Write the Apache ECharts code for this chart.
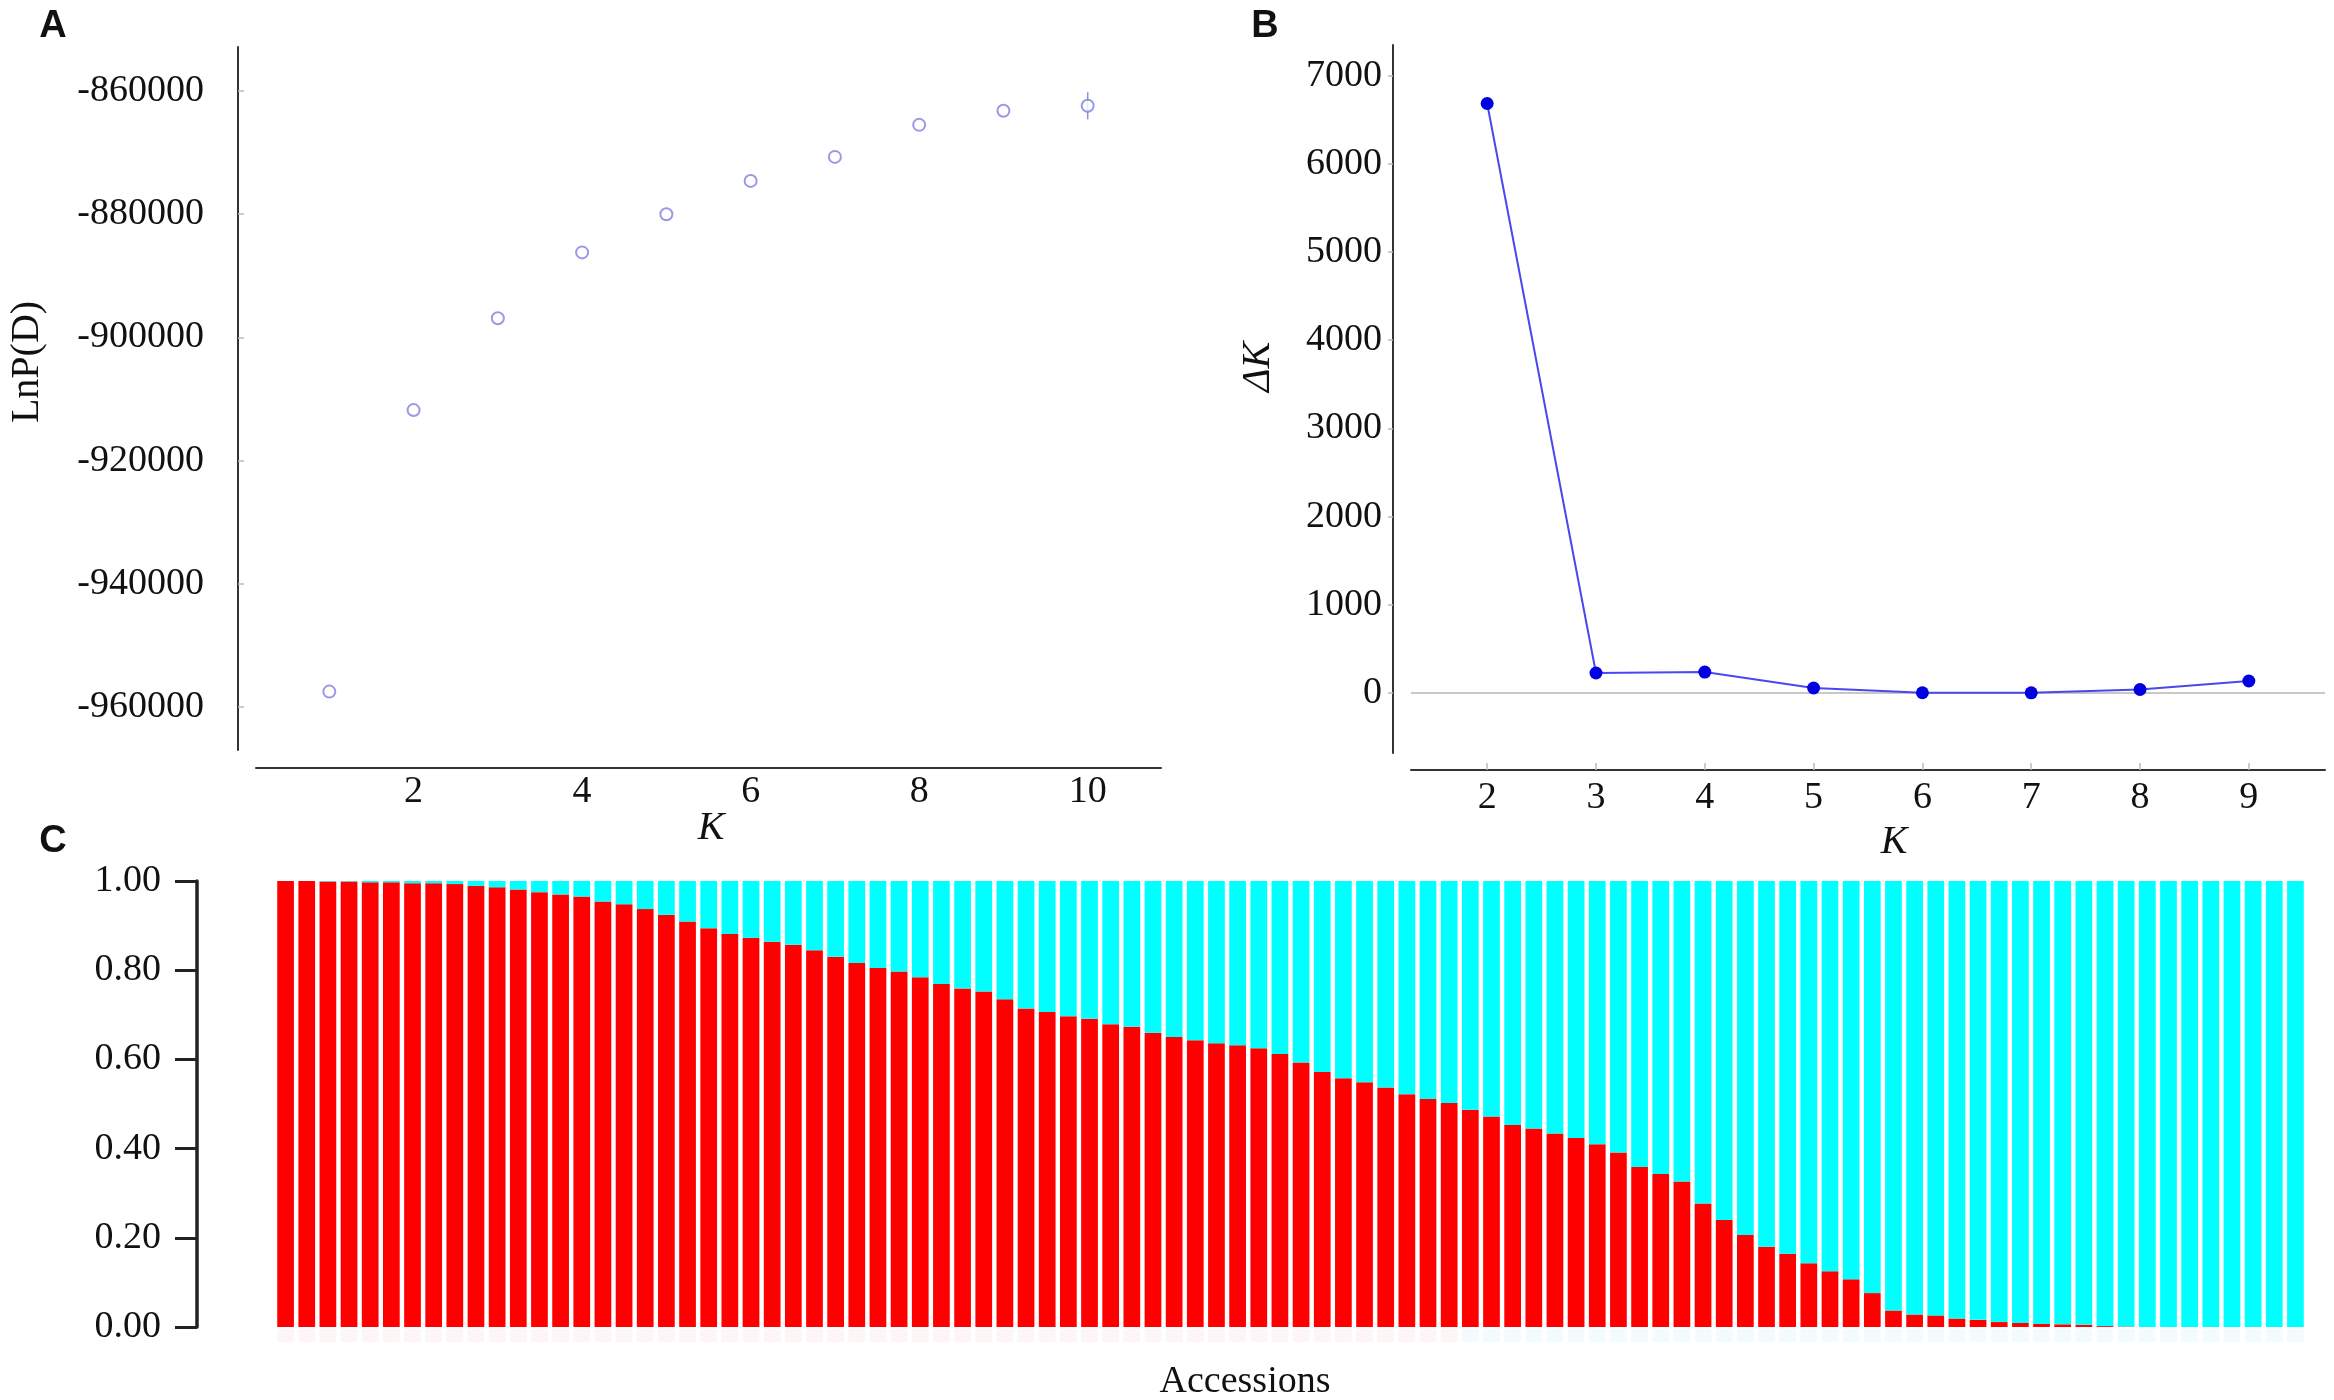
<!DOCTYPE html>
<html><head><meta charset="utf-8">
<script src="https://cdn.jsdelivr.net/npm/echarts@6/dist/echarts.min.js"></script>
<style>html,body{margin:0;padding:0;background:#fff}#c{width:2334px;height:1400px}</style>
</head><body><div id="c"></div>
<script>
// ---- Panel A: LnP(D) vs K ----
const kA = [1, 2, 3, 4, 5, 6, 7, 8, 9, 10];
const lnPD = [-957500, -911800, -896900, -886200, -880000, -874600, -870700, -865500, -863200, -862400];
const lnPDsd = [0, 0, 0, 0, 0, 0, 0, 0, 0, 2200];
const xTicksA = [2, 4, 6, 8, 10];
const yTicksA = [-960000, -940000, -920000, -900000, -880000, -860000];

// ---- Panel B: Delta K vs K ----
const kB = [2, 3, 4, 5, 6, 7, 8, 9];
const deltaK = [6684, 227, 238, 57, 3, 2, 40, 136];
const xTicksB = [2, 3, 4, 5, 6, 7, 8, 9];
const yTicksB = [0, 1000, 2000, 3000, 4000, 5000, 6000, 7000];

// ---- Panel C: membership coefficients (cluster 1, red) per accession ----
const q1 = [
  1.000, 1.000, 0.999, 0.999, 0.997, 0.997, 0.995, 0.995, 0.993, 0.989,
  0.986, 0.981, 0.975, 0.970, 0.965, 0.954, 0.948, 0.937, 0.924, 0.909,
  0.894, 0.881, 0.873, 0.864, 0.857, 0.845, 0.830, 0.816, 0.805, 0.797,
  0.784, 0.769, 0.759, 0.752, 0.735, 0.714, 0.706, 0.697, 0.691, 0.679,
  0.673, 0.660, 0.650, 0.643, 0.636, 0.632, 0.625, 0.612, 0.593, 0.572,
  0.558, 0.549, 0.537, 0.522, 0.511, 0.502, 0.487, 0.472, 0.453, 0.445,
  0.434, 0.424, 0.410, 0.391, 0.359, 0.343, 0.326, 0.277, 0.240, 0.206,
  0.180, 0.164, 0.143, 0.125, 0.107, 0.076, 0.037, 0.028, 0.026, 0.019,
  0.016, 0.011, 0.009, 0.007, 0.006, 0.005, 0.002, 0.001, 0.000, 0.000,
  0.000, 0.000, 0.000, 0.000, 0.000, 0.000
];
const accessions = q1.map((_, i) => String(i + 1));
const q2 = q1.map(v => +(1 - v).toFixed(3));
const yTicksC = [0, 0.2, 0.4, 0.6, 0.8, 1.0];

const SERIF = 'Liberation Serif';
const SANS = 'Liberation Sans';
const TXT = '#111';

const chart = echarts.init(document.getElementById('c'), null, {renderer: 'canvas'});

function txt(text, x, y, opt) {
  opt = opt || {};
  return {
    type: 'text', x: x, y: y, rotation: opt.rotation || 0, silent: true,
    style: {
      text: text,
      font: opt.font,
      fill: opt.fill || TXT,
      align: 'center', verticalAlign: 'middle',
      textAlign: 'center', textVerticalAlign: 'middle'
    }
  };
}

const lab = (extra) => Object.assign({color: TXT, fontFamily: SERIF, fontSize: 38}, extra);

const option = {
  backgroundColor: '#ffffff',
  animation: false,
  textStyle: {fontFamily: SERIF},
  grid: [
    {left: 256, top: 47, width: 905, height: 703},
    {left: 1411, top: 45, width: 914, height: 708},
    {left: 275, top: 881, width: 2031, height: 446},
    {left: 275, top: 1329, width: 2031, height: 13}
  ],
  xAxis: [
    {
      type: 'value', gridIndex: 0, min: 0.13, max: 10.87, offset: 18,
      splitLine: {show: false},
      axisLine: {show: true, onZero: false, lineStyle: {color: '#333', width: 2}},
      axisTick: {show: false},
      axisLabel: lab({customValues: xTicksA, margin: 5, formatter: v => String(v)})
    },
    {
      type: 'value', gridIndex: 1, min: 1.3, max: 9.7, offset: 17,
      splitLine: {show: false},
      axisLine: {show: true, onZero: false, lineStyle: {color: '#333', width: 2}},
      axisTick: {show: true, inside: true, length: 7, customValues: xTicksB, lineStyle: {color: '#bbb', width: 1.5}},
      axisLabel: lab({customValues: xTicksB, margin: 9, formatter: v => String(v)})
    },
    {
      type: 'category', gridIndex: 2, data: accessions,
      axisLine: {show: false}, axisTick: {show: false}, axisLabel: {show: false}, splitLine: {show: false}
    },
    {
      type: 'category', gridIndex: 3, data: accessions,
      axisLine: {show: false}, axisTick: {show: false}, axisLabel: {show: false}, splitLine: {show: false}
    }
  ],
  yAxis: [
    {
      type: 'value', gridIndex: 0, min: -966980, max: -852860, offset: 18,
      splitLine: {show: false},
      axisLine: {show: true, onZero: false, lineStyle: {color: '#333', width: 2}},
      axisTick: {show: true, inside: true, length: 6, customValues: yTicksA, lineStyle: {color: '#bbb', width: 1.5}},
      axisLabel: lab({customValues: yTicksA, margin: 34, formatter: v => String(v)})
    },
    {
      type: 'value', gridIndex: 1, min: -680, max: 7347, offset: 18,
      splitLine: {show: false},
      axisLine: {show: true, onZero: false, lineStyle: {color: '#333', width: 2}},
      axisTick: {show: true, inside: false, length: 5, customValues: yTicksB, lineStyle: {color: '#bbb', width: 1.5}},
      axisLabel: lab({customValues: yTicksB, margin: 11, formatter: v => String(v)})
    },
    {
      type: 'value', gridIndex: 2, min: 0, max: 1, interval: 0.2, offset: 78,
      splitLine: {show: false},
      axisLine: {show: true, lineStyle: {color: '#222', width: 3.5}},
      axisTick: {show: true, inside: false, length: 22, lineStyle: {color: '#222', width: 3}},
      axisLabel: lab({margin: 36, formatter: v => v.toFixed(2)})
    },
    {
      type: 'value', gridIndex: 3, min: 0, max: 1, show: false
    }
  ],
  series: [
    {
      type: 'custom', xAxisIndex: 0, yAxisIndex: 0, silent: true, z: 2,
      data: kA.map((k, i) => [k, lnPD[i], lnPDsd[i]]),
      renderItem: function (params, api) {
        const x = api.value(0), y = api.value(1), e = api.value(2);
        if (!e) return null;
        const p1 = api.coord([x, y - e]);
        const p2 = api.coord([x, y + e]);
        return {type: 'line', shape: {x1: p1[0], y1: p1[1], x2: p2[0], y2: p2[1]},
          style: {stroke: '#8e8ee0', lineWidth: 1.5}};
      }
    },
    {
      type: 'scatter', xAxisIndex: 0, yAxisIndex: 0, z: 3,
      symbol: 'emptyCircle', symbolSize: 12,
      itemStyle: {color: '#8080e0', borderColor: '#8080e0', borderWidth: 2},
      data: kA.map((k, i) => [k, lnPD[i]])
    },
    {
      type: 'line', xAxisIndex: 1, yAxisIndex: 1,
      symbol: 'circle', symbolSize: 13, showSymbol: true,
      lineStyle: {color: '#4848ee', width: 2},
      itemStyle: {color: '#0000e0'},
      data: kB.map((k, i) => [k, deltaK[i]]),
      markLine: {
        silent: true, symbol: ['none', 'none'], label: {show: false},
        lineStyle: {color: '#c8c8c8', width: 2, type: 'solid'},
        z: 1,
        data: [{yAxis: 0}]
      }
    },
    {
      type: 'bar', xAxisIndex: 2, yAxisIndex: 2, stack: 'q', barCategoryGap: '21%',
      itemStyle: {color: '#ff0000'}, data: q1
    },
    {
      type: 'bar', xAxisIndex: 2, yAxisIndex: 2, stack: 'q', barCategoryGap: '21%',
      itemStyle: {color: '#00ffff'}, data: q2
    },
    {
      type: 'bar', xAxisIndex: 3, yAxisIndex: 3, barCategoryGap: '21%', silent: true,
      itemStyle: {color: function (p) { return q1[p.dataIndex] > 0.5 ? '#fdf5f6' : '#f3fbfc'; }},
      data: q1.map(() => 1)
    }
  ],
  graphic: [
    txt('A', 53, 27, {font: 'bold 38px ' + SANS}),
    txt('B', 1265, 27, {font: 'bold 38px ' + SANS}),
    txt('C', 53, 842, {font: 'bold 38px ' + SANS}),
    txt('LnP(D)', 27, 362, {font: '40px ' + SERIF, rotation: Math.PI / 2}),
    txt('K', 711, 828, {font: 'italic 40px ' + SERIF}),
    txt('\u0394K', 1258, 367, {font: 'italic 40px ' + SERIF, rotation: Math.PI / 2}),
    txt('K', 1894, 842, {font: 'italic 40px ' + SERIF}),
    txt('Accessions', 1245, 1382, {font: '38px ' + SERIF})
  ]
};
chart.setOption(option);
</script>
</body></html>
